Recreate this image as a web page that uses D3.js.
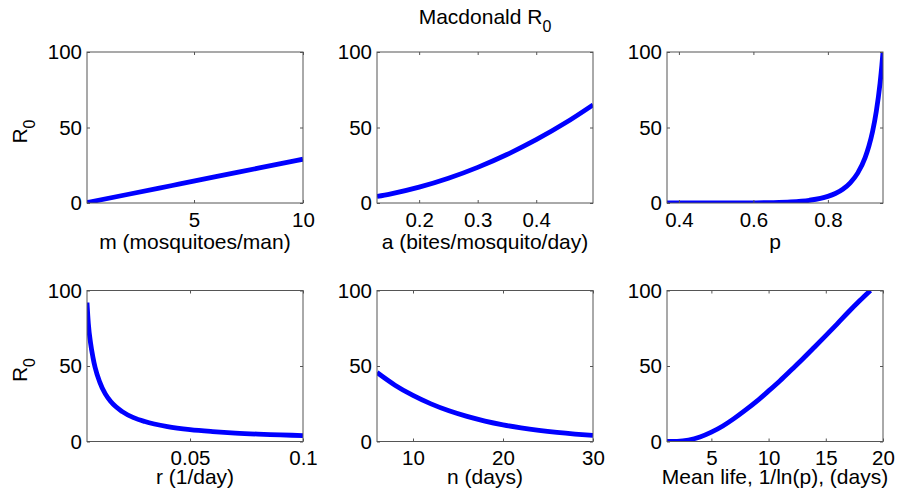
<!DOCTYPE html>
<html>
<head>
<meta charset="utf-8">
<script src="https://cdn.jsdelivr.net/npm/d3@7"></script>
<style>
  body { margin: 0; background: #fff; }
  svg text { font-family: "Liberation Sans", Arial, sans-serif; fill: #000; }
</style>
</head>
<body>
<svg id="chart" width="902" height="495"></svg>
<script>
/* Macdonald R0 sensitivity panels
 * six small plots, R0 against one parameter each
 */

/****************************** Data ******************************/

// m (mosquitoes/man)
var mVals   = [0.09, 2, 4, 6, 8, 10];
var r0ByM   = [0.3, 5.8, 11.6, 17.4, 23.2, 29];

// a (bites/mosquito/day)
var aVals   = [0.128, 0.15, 0.2, 0.25, 0.3, 0.35, 0.4, 0.45, 0.497];
var r0ByA   = [4.3, 5.9, 10.5, 16.4, 23.6, 32.1, 41.9, 53.1, 65.0];

// p (daily survival)
var pVals   = [0.368, 0.45, 0.5, 0.55, 0.6, 0.65, 0.7, 0.75, 0.78, 0.8, 0.82, 0.84,
               0.86, 0.88, 0.9, 0.91, 0.92, 0.93, 0.94, 0.945, 0.948];
var r0ByP   = [0, 0.004, 0.013, 0.04, 0.11, 0.28, 0.72, 1.8, 3.05, 4.4, 6.3, 9.1,
               13.4, 19.8, 30.1, 37.6, 47.4, 60.7, 79.2, 91.4, 100];

// r (1/day)
var rVals   = [0.0044, 0.005, 0.006, 0.007, 0.008, 0.01, 0.0125, 0.015, 0.02, 0.025,
               0.03, 0.04, 0.05, 0.06, 0.07, 0.08, 0.09, 0.1];
var r0ByR   = [92, 78, 65, 56, 49, 39.5, 31.5, 26.3, 19.8, 15.8,
               13.2, 9.9, 7.9, 6.6, 5.6, 4.9, 4.4, 3.9];

// n (days)
var nVals   = [6, 8, 10, 12, 14, 16, 18, 20, 22, 24, 26, 28, 30];
var r0ByN   = [45.7, 37.3, 30.5, 24.9, 20.3, 16.6, 13.55, 11.06, 9.03, 7.37, 6.02, 4.91, 4.01];

// mean life, 1/ln(p) (days)
var lifeVals = [1.12, 2, 3, 4, 5, 6, 7, 8, 9, 10, 11, 12, 13, 14, 15, 16, 17, 18, 18.9];
var r0ByLife = [0, 0.12, 0.97, 3.0, 6.2, 10.3, 15.3, 20.9, 26.9, 33.5, 40.3, 47.5,
                54.8, 62.4, 70.1, 77.9, 85.9, 93.5, 100];

// tick labels
var yTicks = [0, 50, 100];

/****************************** Layout ******************************/

var colLeft = [87, 377, 667];
var rowTop  = [52, 290.5];
var boxW = 216, boxH = 151;
var xLabelOffset = [46, 42];

var panels = [
  {row: 0, col: 0, x: mVals,    y: r0ByM,    dom: [0.09, 10],    ticks: [5, 10],          label: "m (mosquitoes/man)", ylab: true},
  {row: 0, col: 1, x: aVals,    y: r0ByA,    dom: [0.128, 0.497], ticks: [0.2, 0.3, 0.4], label: "a (bites/mosquito/day)"},
  {row: 0, col: 2, x: pVals,    y: r0ByP,    dom: [0.368, 0.948], ticks: [0.4, 0.6, 0.8], label: "p"},
  {row: 1, col: 0, x: rVals,    y: r0ByR,    dom: [0.0044, 0.1], ticks: [0.05, 0.1],      label: "r (1/day)", ylab: true},
  {row: 1, col: 1, x: nVals,    y: r0ByN,    dom: [6, 30],       ticks: [10, 20, 30],     label: "n (days)"},
  {row: 1, col: 2, x: lifeVals, y: r0ByLife, dom: [1.12, 20],    ticks: [5, 10, 15, 20],  label: "Mean life, 1/ln(p), (days)"}
];

var svg = d3.select('svg#chart');
var axisColor = '#555';

// title
var title = svg.append('text')
  .attr('x', 485).attr('y', 24)
  .attr('text-anchor', 'middle')
  .style('font-size', '21px')
  .text('Macdonald R');
title.append('tspan').attr('dy', 8).style('font-size', '16px').text('0');

/****************************** Panels ******************************/

panels.forEach(function (p, i) {
  var left = colLeft[p.col], top = rowTop[p.row];
  var g = svg.append('g').attr('transform', 'translate(' + left + ',' + top + ')');

  var x = d3.scaleLinear().domain(p.dom).range([0, boxW]);
  var y = d3.scaleLinear().domain([0, 100]).range([boxH, 0]);

  g.append('clipPath').attr('id', 'clip' + i)
    .append('rect').attr('width', boxW).attr('height', boxH);

  // curve
  var line = d3.line()
    .x(function (d, k) { return x(p.x[k]); })
    .y(function (d) { return y(d); })
    .curve(d3.curveMonotoneX);

  g.append('path')
    .attr('clip-path', 'url(#clip' + i + ')')
    .attr('d', line(p.y))
    .attr('fill', 'none')
    .attr('stroke', '#0000ff')
    .attr('stroke-width', 4.8);

  // axes, ticks pointing inwards on all four sides
  var fmt = function (d) { return String(d); };
  var bottom = g.append('g').attr('transform', 'translate(0,' + boxH + ')')
    .call(d3.axisBottom(x).tickValues(p.ticks).tickFormat(fmt).tickSize(-3).tickPadding(9));
  var leftAx = g.append('g')
    .call(d3.axisLeft(y).tickValues(yTicks).tickFormat(fmt).tickSize(-3).tickPadding(5));
  var topAx = g.append('g')
    .call(d3.axisTop(x).tickValues(p.ticks).tickFormat('').tickSize(-3));
  var rightAx = g.append('g').attr('transform', 'translate(' + boxW + ',0)')
    .call(d3.axisRight(y).tickValues(yTicks).tickFormat('').tickSize(-3));

  [bottom, leftAx, topAx, rightAx].forEach(function (a) {
    a.select('.domain').remove();
    a.selectAll('line').attr('stroke', axisColor);
    a.selectAll('text').style('font-size', '20.5px').attr('fill', '#000').style('font-family', '"Liberation Sans", Arial, sans-serif');
  });

  g.append('rect')
    .attr('width', boxW).attr('height', boxH)
    .attr('fill', 'none')
    .attr('stroke', axisColor)
    .attr('stroke-width', 1);

  // x label
  g.append('text')
    .attr('x', boxW / 2).attr('y', boxH + xLabelOffset[p.row])
    .attr('text-anchor', 'middle')
    .style('font-size', '21px')
    .text(p.label);

  // y label
  if (p.ylab) {
    var yl = svg.append('text')
      .attr('transform', 'translate(' + 27 + ',' + (top + boxH / 2 + 4) + ') rotate(-90)')
      .attr('text-anchor', 'middle')
      .style('font-size', '21px')
      .text('R');
    yl.append('tspan').attr('dy', 8).style('font-size', '16px').text('0');
  }
});
</script>
</body>
</html>
